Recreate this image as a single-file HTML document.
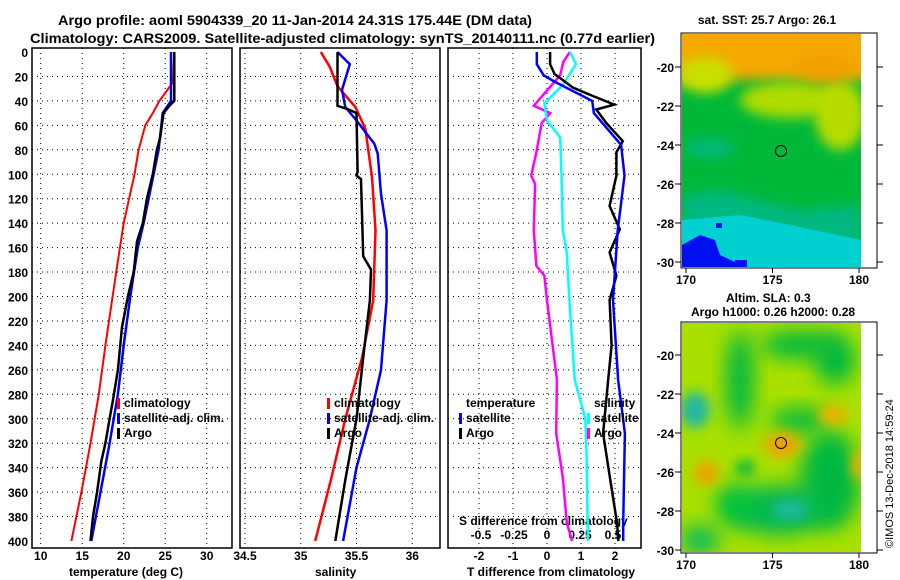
<!DOCTYPE html>
<html><head><meta charset="utf-8"><style>
body{margin:0;background:#fff;}
svg{display:block;font-family:"Liberation Sans",sans-serif;font-weight:bold;}
</style></head><body>
<svg id="c" width="900" height="580" viewBox="0 0 900 580">
<defs>
<filter id="bl1" x="-50%" y="-50%" width="200%" height="200%"><feGaussianBlur stdDeviation="6"/></filter>
<filter id="bl2" x="-50%" y="-50%" width="200%" height="200%"><feGaussianBlur stdDeviation="10"/></filter>
<clipPath id="m1c"><rect x="682" y="34" width="179" height="233"/></clipPath>
<clipPath id="m2c"><rect x="682" y="323" width="179" height="229"/></clipPath>
</defs>
<text x="58" y="25" font-size="14" textLength="474" lengthAdjust="spacingAndGlyphs">Argo profile: aoml 5904339_20 11-Jan-2014 24.31S 175.44E (DM data)</text>
<text x="30" y="43" font-size="14" textLength="625" lengthAdjust="spacingAndGlyphs">Climatology: CARS2009. Satellite-adjusted climatology: synTS_20140111.nc (0.77d earlier)</text>

<g id="maps">
<text x="767" y="24" font-size="12" text-anchor="middle">sat. SST: 25.7 Argo: 26.1</text>
<g clip-path="url(#m1c)">
<rect x="682" y="34" width="179" height="233" fill="#00b838"/>
<rect x="660" y="10" width="220" height="70" fill="#f5a800" filter="url(#bl1)"/>
<ellipse cx="705" cy="75" rx="28" ry="18" fill="#c8e000" filter="url(#bl1)"/>
<ellipse cx="790" cy="100" rx="50" ry="18" fill="#b0dc00" filter="url(#bl1)"/>
<ellipse cx="840" cy="115" rx="25" ry="35" fill="#b8dc00" filter="url(#bl1)"/>
<ellipse cx="825" cy="68" rx="30" ry="14" fill="#f0a000" filter="url(#bl1)"/>
<ellipse cx="710" cy="148" rx="25" ry="10" fill="#00b878" filter="url(#bl1)"/>
<path d="M682 196 L720 190 L760 200 L800 210 L861 205 L861 267 L682 267Z" fill="#00b880" filter="url(#bl1)"/>
<path d="M682 220 L740 215 L790 225 L861 240 L861 267 L682 267Z" fill="#00d0d0"/>
<path d="M682 245 L700 235 L715 240 L720 255 L735 262 L735 267 L682 267Z" fill="#0010f0"/>
<rect x="716" y="223" width="6" height="5" fill="#0010f0"/><rect x="735" y="260" width="12" height="7" fill="#0010f0"/>
</g>
<rect x="681" y="33" width="196" height="235" fill="none" stroke="#000"/>
<circle cx="781" cy="151" r="5.5" fill="none" stroke="#000"/>

<text x="726" y="302" font-size="12">Altim. SLA: 0.3</text>
<text x="691" y="316" font-size="12">Argo h1000: 0.26 h2000: 0.28</text>
<g clip-path="url(#m2c)">
<rect x="682" y="323" width="179" height="229" fill="#a8e000"/>
<ellipse cx="740" cy="380" rx="14" ry="50" fill="#00b840" filter="url(#bl2)"/>
<ellipse cx="800" cy="345" rx="40" ry="14" fill="#00b840" filter="url(#bl2)"/>
<ellipse cx="800" cy="420" rx="30" ry="12" fill="#00b840" filter="url(#bl2)"/>
<ellipse cx="830" cy="480" rx="30" ry="50" fill="#00b840" filter="url(#bl2)"/>
<ellipse cx="780" cy="510" rx="50" ry="25" fill="#00b850" filter="url(#bl2)"/>
<ellipse cx="790" cy="510" rx="18" ry="10" fill="#20b8a0" filter="url(#bl1)"/>
<ellipse cx="695" cy="410" rx="15" ry="18" fill="#20b8a0" filter="url(#bl1)"/>
<ellipse cx="735" cy="505" rx="20" ry="20" fill="#00c040" filter="url(#bl2)"/>
<ellipse cx="700" cy="540" rx="20" ry="14" fill="#00b860" filter="url(#bl2)"/>
<ellipse cx="835" cy="360" rx="20" ry="25" fill="#00b840" filter="url(#bl2)"/>
<ellipse cx="782" cy="445" rx="18" ry="12" fill="#f0a000" filter="url(#bl1)"/>
<ellipse cx="833" cy="415" rx="14" ry="10" fill="#f0b000" filter="url(#bl1)"/>
<ellipse cx="706" cy="473" rx="12" ry="12" fill="#f0a000" filter="url(#bl1)"/>
<ellipse cx="860" cy="465" rx="8" ry="15" fill="#f0b000" filter="url(#bl1)"/>
<ellipse cx="745" cy="468" rx="10" ry="8" fill="#00b840" filter="url(#bl1)"/>
</g>
<rect x="681" y="322" width="196" height="231" fill="none" stroke="#000"/>
<circle cx="781" cy="443" r="5.5" fill="none" stroke="#000"/>
<text transform="translate(893,548) rotate(-90)" font-size="11" font-weight="normal">©IMOS 13-Dec-2018 14:59:24</text>
</g>
<g id="plots"></g>
</svg>
<script>
// ---- data (depth in dbar) ----
var argoTdep=[0,40,44,50,70,80,100,120,140,155,180,200,225,260,285,300,320,335,360,380,400];
var argoT=[26.1,26.1,25.5,24.8,24.4,24.0,23.5,22.8,22.3,21.6,21.2,20.5,19.8,19.3,18.7,18.3,17.8,17.3,16.8,16.3,16.0];
var satTdep=[0,40,45,50,80,100,140,160,200,240,280,320,360,400];
var satT=[25.7,25.7,25.2,24.7,24.2,23.6,22.4,21.7,20.8,20.0,19.3,18.3,17.2,16.1];
var climTdep=[0,25,40,50,60,80,100,140,180,240,280,320,360,400];
var climT=[26.1,25.9,24.3,23.5,22.6,21.8,21.3,20.0,19.1,17.8,17.0,16.0,14.9,13.7];
var climSdep=[0,12,28,45,63,103,146,203,250,300,350,400];
var climS=[35.18,35.26,35.33,35.49,35.58,35.64,35.67,35.65,35.55,35.4,35.27,35.13];
var satSdep=[0,10,31,45,56,75,83,116,146,203,260,300,340,400];
var satS=[35.33,35.44,35.37,35.40,35.50,35.66,35.69,35.72,35.77,35.77,35.72,35.62,35.5,35.38];
var argoSdep=[0,44,47,50,98,101,104,167,178,203,250,300,350,400];
var argoS=[35.33,35.33,35.43,35.50,35.51,35.50,35.54,35.56,35.63,35.62,35.56,35.5,35.4,35.31];
var dTargoDep=[0,10,18,29,36,43,47,58,73,82,101,126,145,164,183,203,240,268,312,348,385,400];
var dTargo=[0.09,0.09,0.22,0.76,1.35,1.98,1.45,1.74,2.23,2.04,2.04,1.84,2.14,1.84,2.04,1.84,1.9,1.8,1.65,1.85,2.06,2.1];
var dTsatDep=[0,10,19,24,40,50,76,101,146,203,268,312,385,400];
var dTsat=[-0.3,-0.3,-0.1,0.2,1.33,1.38,2.18,2.28,2.08,1.94,2.09,2.29,2.24,2.24];
var dSargoDep=[0,8,19,44,50,58,82,101,108,146,175,183,203,268,312,348,385,400];
var dSargo=[0.174,0.124,0.1,-0.1,0.025,-0.04,-0.08,-0.12,-0.09,-0.1,-0.08,-0.02,0.0,0.075,0.07,0.12,0.15,0.19];
var dSsatDep=[0,10,27,42,56,70,101,146,164,203,268,300,330,400];
var dSsat=[0.174,0.22,0.12,-0.02,0,0.1,0.11,0.12,0.15,0.17,0.21,0.29,0.30,0.31];
var depthTicks=[0,20,40,60,80,100,120,140,160,180,200,220,240,260,280,300,320,340,360,380,400];
var tTicks=[10,15,20,25,30];
var sTicks=[34.5,35,35.5,36];
var dTTicks=[-2,-1,0,1,2];
var dSTicks=[-0.5,-0.25,0,0.25,0.5];

var NS='http://www.w3.org/2000/svg';
var G=document.getElementById('plots');
function mk(tag,attrs,parent){var e=document.createElementNS(NS,tag);for(var k in attrs)e.setAttribute(k,attrs[k]);(parent||G).appendChild(e);return e;}
function yD(d){return 52+d*489/400;}
function xT(v){return 40.7+(v-10)*8.3;}
function xS(v){return 245+(v-34.5)*111.5;}
function xDT(v){return 547+v*34;}
function xDS(v){return 547+v*132;}
var panels=[{x0:32,x1:232,name:'temperature-panel'},{x0:240,x1:440,name:'salinity-panel'},{x0:448,x1:641,name:'difference-panel'}];
panels.forEach(function(p){
  depthTicks.forEach(function(d){
    if(d===0||d===400)return;
    var l=mk('line',{x1:p.x0,x2:p.x1,y1:yD(d),y2:yD(d),stroke:'#000','stroke-dasharray':'1 4'});
    
    
  });
});
function vgrid(arr,fx,p){arr.forEach(function(v){var x=fx(v);if(x<=p.x0+2||x>=p.x1-2)return;
  var l=mk('line',{x1:x,x2:x,y1:48,y2:548,stroke:'#000','stroke-dasharray':'1 4'});
  
  });}
vgrid(tTicks,xT,panels[0]);vgrid(sTicks,xS,panels[1]);vgrid(dTTicks,xDT,panels[2]);
depthTicks.forEach(function(d){
  var t=mk('text',{x:28,y:yD(d)+5,'font-size':12,'text-anchor':'end'});t.textContent=d;
  
  
});
function xlabels(arr,fx,y){arr.forEach(function(v){var t=mk('text',{x:fx(v),y:y,'font-size':12,'text-anchor':'middle'});t.textContent=v;
  
  });}
xlabels(tTicks,xT,560);xlabels(sTicks,xS,560);xlabels(dTTicks,xDT,560);
dSTicks.forEach(function(v){var t=mk('text',{x:xDS(v),y:539,'font-size':12,'text-anchor':'middle'});t.textContent=String(v);
  
  });
var st=mk('text',{x:459,y:525,'font-size':12});st.textContent='S difference from climatology';


var ax=[['temperature (deg C)',69],['salinity',315],['T difference from climatology',467]];
ax.forEach(function(a){var t=mk('text',{x:a[1],y:576,'font-size':12});t.textContent=a[0];
  
  });
function line(deps,vals,fx,col,w,name){
  var d='';for(var i=0;i<deps.length;i++){d+=(i?'L':'M')+fx(vals[i]).toFixed(1)+' '+yD(deps[i]).toFixed(1);}
  var p=mk('path',{d:d,fill:'none',stroke:col,'stroke-width':w});
  
  
}
line(climTdep,climT,xT,'#f00',2,'temperature-climatology-line');
line(satTdep,satT,xT,'#00f',2.5,'temperature-satellite-line');
line(argoTdep,argoT,xT,'#000',2.5,'temperature-argo-line');
line(climSdep,climS,xS,'#f00',2.5,'salinity-climatology-line');
line(satSdep,satS,xS,'#00f',2.5,'salinity-satellite-line');
line(argoSdep,argoS,xS,'#000',2.5,'salinity-argo-line');
line(dSargoDep,dSargo,xDS,'#f0f',2.5,'s-diff-argo-line');
line(dSsatDep,dSsat,xDS,'#0ff',2.5,'s-diff-satellite-line');
line(dTargoDep,dTargo,xDT,'#000',2.5,'t-diff-argo-line');
line(dTsatDep,dTsat,xDT,'#00f',2.5,'t-diff-satellite-line');
panels.forEach(function(p){
  var r=mk('rect',{x:p.x0,y:48,width:p.x1-p.x0,height:500,fill:'none',stroke:'#000','stroke-width':1.5});
  
  
});
function legend(x,items){items.forEach(function(it,i){var y=407+i*15;
  mk('rect',{x:x,y:y-9,width:3,height:11,fill:it[1]});
  var t=mk('text',{x:x+7,y:y,'font-size':12});t.textContent=it[0];
  
  });}
legend(117,[['climatology','#f00'],['satellite-adj. clim.','#00f'],['Argo','#000']]);
legend(327,[['climatology','#f00'],['satellite-adj. clim.','#00f'],['Argo','#000']]);
legend(459,[['temperature','none'],['satellite','#00f'],['Argo','#000']]);
legend(587,[['salinity','none'],['satellite','#0ff'],['Argo','#f0f']]);
// map axes
var latTicks=[-20,-22,-24,-26,-28,-30],lonTicks=[170,175,180];
var maps=[{top:33,y20:67,bot:268},{top:322,y20:355,bot:553}];
maps.forEach(function(m){
  latTicks.forEach(function(la){var y=m.y20+(-20-la)*19.5;
    mk('line',{x1:675,x2:681,y1:y,y2:y,stroke:'#000'});mk('line',{x1:877,x2:883,y1:y,y2:y,stroke:'#000'});
    var t=mk('text',{x:674,y:y+5,'font-size':12,'text-anchor':'end'});t.textContent=la;
    
    });
  lonTicks.forEach(function(lo){var x=686+(lo-170)*17.3;
    mk('line',{x1:x,x2:x,y1:m.bot,y2:m.bot+5,stroke:'#000'});
    var t=mk('text',{x:x,y:m.bot+16,'font-size':12,'text-anchor':'middle'});t.textContent=lo;
    
    });
});
</script>
</body></html>
